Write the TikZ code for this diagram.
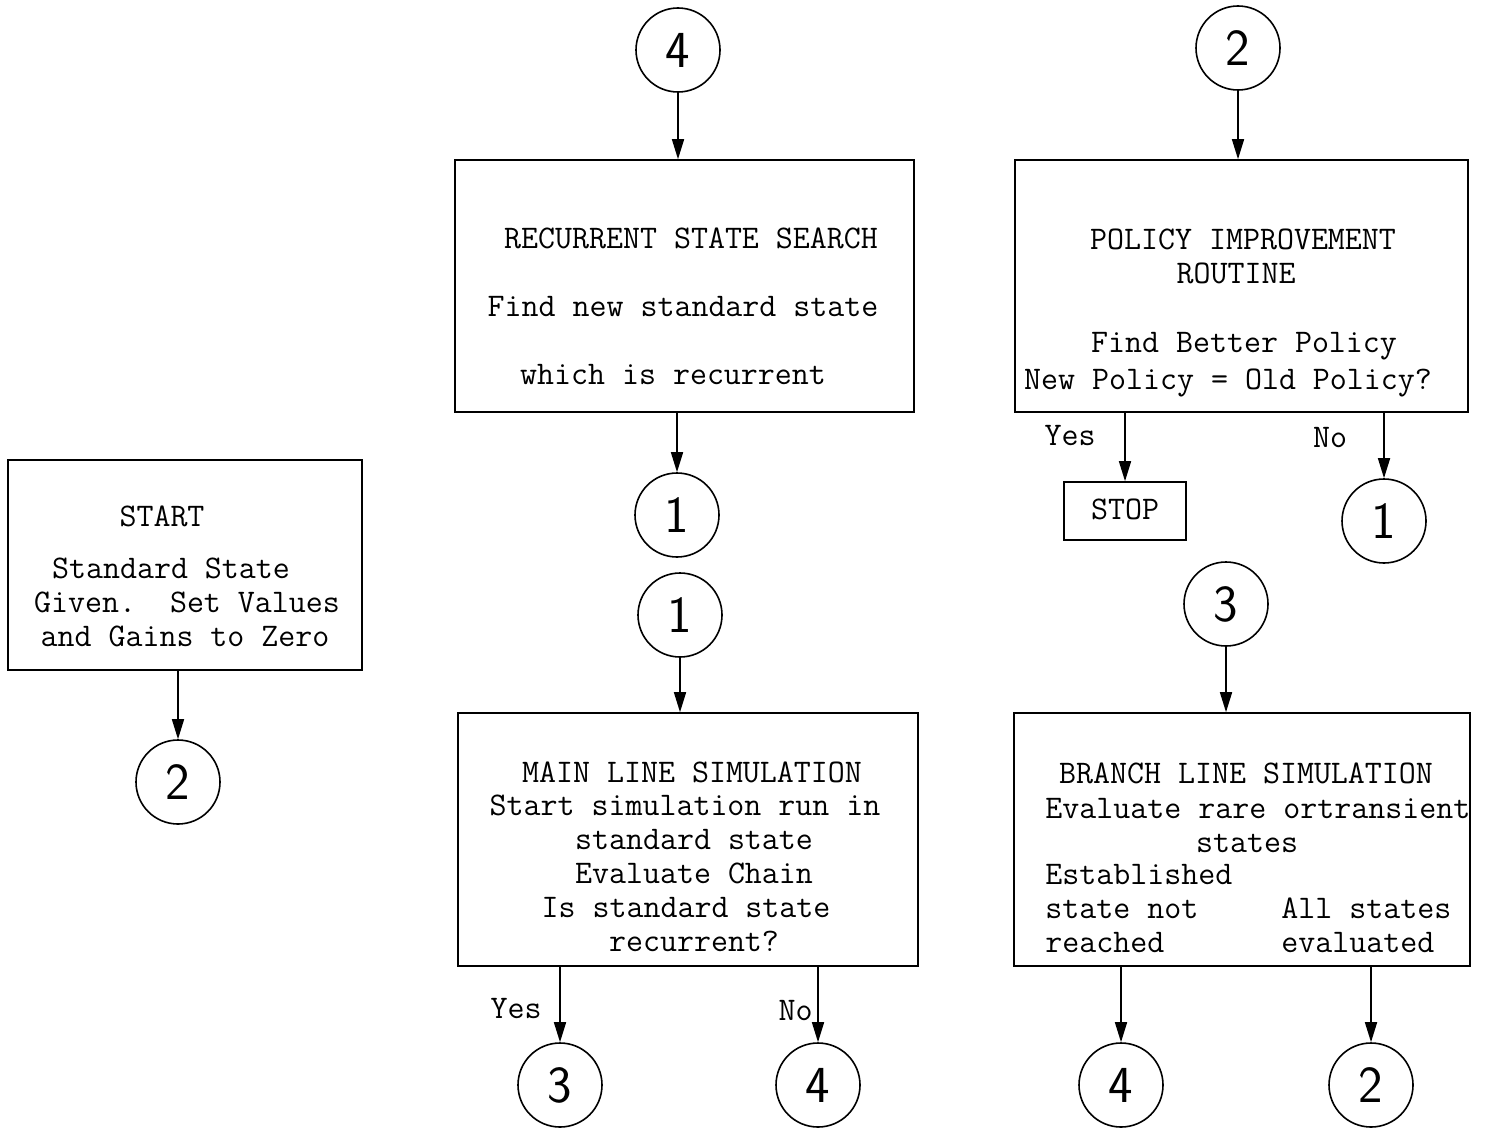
\documentclass[tikz,border=0pt]{standalone}
\usepackage{fontspec}
\usetikzlibrary{arrows.meta}
\begin{document}
\begin{tikzpicture}[x=0.5pt,y=-0.5pt,
  box/.style={draw,line width=0.8pt,rectangle,inner sep=0},
  conn/.style={draw,circle,line width=0.8pt,minimum size=42pt,inner sep=0,font=\sffamily\fontsize{26}{26}\selectfont},
  txt/.style={font=\ttfamily\frenchspacing\fontsize{16.5}{18}\selectfont,inner sep=0,text height=11pt,text depth=3pt},
  arr/.style={line width=0.8pt,-{Triangle[length=10pt,width=6pt]}}]
\useasboundingbox (0,0) rectangle (1486,1129);
% boxes
\node[box,minimum width=177pt,minimum height=105pt] (start) at (185,565) {};
\node[box,minimum width=229.5pt,minimum height=126pt] (rss) at (684.5,286) {};
\node[box,minimum width=230pt,minimum height=126.5pt] (mls) at (688,839.5) {};
\node[box,minimum width=226.5pt,minimum height=126pt] (pir) at (1241.5,286) {};
\node[box,minimum width=228pt,minimum height=126.5pt] (bls) at (1242,839.5) {};
\node[box,txt,minimum width=61pt,minimum height=29pt] (stop) at (1125,511) {STOP};
% connectors (circles)
\node[conn] (c2s) at (178,782) {2};
\node[conn] (c4t) at (678,50) {4};
\node[conn] (c1a) at (677,515) {1};
\node[conn] (c1b) at (680,615) {1};
\node[conn] (c3a) at (560,1085) {3};
\node[conn] (c4b) at (818,1085) {4};
\node[conn] (c2t) at (1238,48) {2};
\node[conn] (c1c) at (1384,521) {1};
\node[conn] (c3b) at (1226,604) {3};
\node[conn] (c4c) at (1121,1085) {4};
\node[conn] (c2b) at (1371,1085) {2};
% texts
\node[txt] at (162,518) {START};
\node[txt] at (171,570) {Standard State};
\node[txt] at (187,604) {Given.~~Set Values};
\node[txt] at (185,638) {and Gains to Zero};
\node[txt] at (691,240) {RECURRENT STATE SEARCH};
\node[txt] at (683,308) {Find new standard state};
\node[txt] at (673,376) {which is recurrent};
\node[txt] at (692,774) {MAIN LINE SIMULATION};
\node[txt] at (685,807) {Start simulation run in};
\node[txt] at (694,841) {standard state};
\node[txt] at (694,875) {Evaluate Chain};
\node[txt] at (686,909) {Is standard state};
\node[txt] at (694,943) {recurrent?};
\node[txt] at (1243,241) {POLICY IMPROVEMENT};
\node[txt] at (1236,275) {ROUTINE};
\node[txt] at (1244,344) {Find Better Policy};
\node[txt] at (1228,381) {New Policy = Old Policy?};
\node[txt] at (1246,775) {BRANCH LINE SIMULATION};
\node[txt,anchor=west] at (1045,810) {Evaluate rare ortransient};
\node[txt] at (1247,844) {states};
\node[txt,anchor=west] at (1045,876) {Established};
\node[txt,anchor=west] at (1045,910) {state not};
\node[txt,anchor=west] at (1045,944) {reached};
\node[txt,anchor=west] at (1281,910) {All states};
\node[txt,anchor=west] at (1281,944) {evaluated};
\node[txt] at (516,1010) {Yes};
\node[txt,anchor=east] at (813,1012) {No};
\node[txt] at (1070,437) {Yes};
\node[txt] at (1330,439) {No};
% arrows
\draw[arr] (start.south -| c2s) -- (c2s.north);
\draw[arr] (c4t.south) -- (c4t.south |- rss.north);
\draw[arr] (rss.south -| c1a) -- (c1a.north);
\draw[arr] (c1b.south) -- (c1b.south |- mls.north);
\draw[arr] (mls.south -| c3a) -- (c3a.north);
\draw[arr] (mls.south -| c4b) -- (c4b.north);
\draw[arr] (c2t.south) -- (c2t.south |- pir.north);
\draw[arr] (pir.south -| stop) -- (stop.north);
\draw[arr] (pir.south -| c1c) -- (c1c.north);
\draw[arr] (c3b.south) -- (c3b.south |- bls.north);
\draw[arr] (bls.south -| c4c) -- (c4c.north);
\draw[arr] (bls.south -| c2b) -- (c2b.north);
\end{tikzpicture}
\end{document}
